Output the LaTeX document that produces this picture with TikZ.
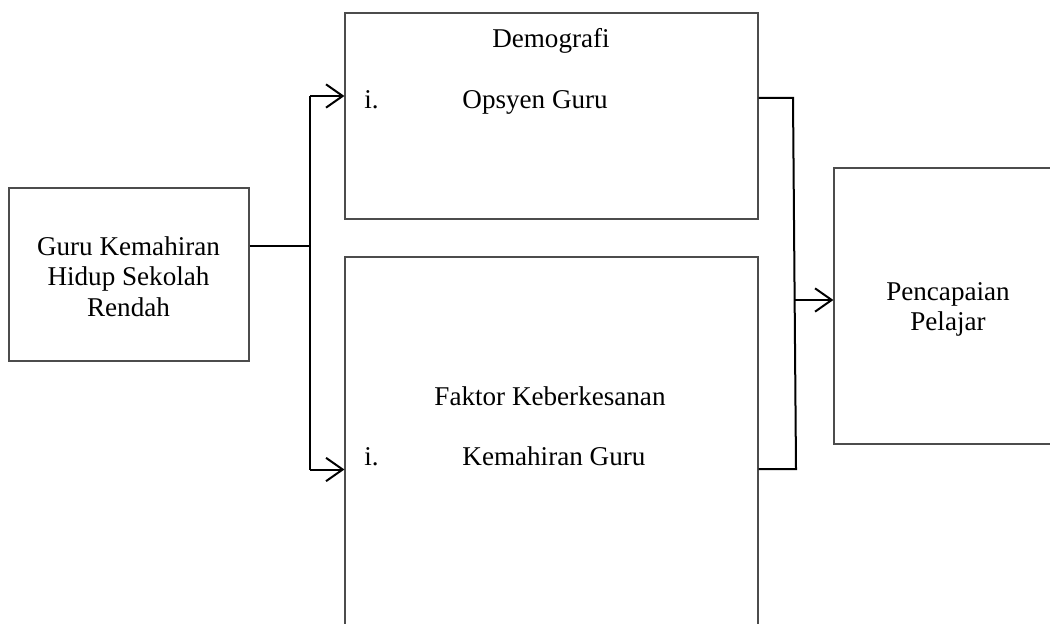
\documentclass[tikz,border=0pt]{standalone}
\usepackage{fontspec}
\setmainfont{Liberation Serif}
\usetikzlibrary{arrows.meta}
\tikzset{
    box/.style={draw=black!70, line width=0.5pt, rectangle, inner sep=0pt},
    txt/.style={font=\fontsize{12.2}{13.7}\selectfont, align=center, inner sep=0pt, anchor=base},
    conn/.style={line width=0.9pt},
    arr/.style={line width=0.9pt, -{Straight Barb[length=7.5pt, width=10.5pt, line width=0.9pt]}}
}
\begin{document}
\begin{tikzpicture}[x=0.45pt, y=-0.45pt]
        \useasboundingbox (0,0) rectangle (1050,623);
        % boxes
        \node[box, minimum width=240*0.45pt, minimum height=173*0.45pt] (guru) at (129,274.5) {};
        \node[box, minimum width=413*0.45pt, minimum height=206*0.45pt] (demo) at (551.5,116) {};
        \node[box, minimum width=413*0.45pt, minimum height=420*0.45pt] (faktor) at (551.5,467) {};
        \node[box, minimum width=228*0.45pt, minimum height=276*0.45pt] (capai) at (948,306) {};
        % texts (base = last line)
        \node[txt] (guru-t) at (128.5,316) {Guru Kemahiran\\Hidup Sekolah\\Rendah};
        \node[txt] (demo-t) at (551,47.7) {Demografi};
        \node[txt, anchor=base west] (demo-i) at (364,108.3) {i.};
        \node[txt, anchor=base west] (demo-a) at (462,108.3) {Opsyen Guru};
        \node[txt] (faktor-t) at (550,405) {Faktor Keberkesanan};
        \node[txt, anchor=base west] (faktor-i) at (364,465) {i.};
        \node[txt, anchor=base west] (faktor-a) at (462,465) {Kemahiran Guru};
        \node[txt] (capai-t) at (948,330.5) {Pencapaian\\Pelajar};
        % connectors
        \coordinate (fork) at (310,245.5);
        \coordinate (forkt) at (310,96);
        \coordinate (forkb) at (310,469.5);
        \coordinate (joint) at (793,98);
        \coordinate (jointm) at (795,300);
        \coordinate (jointb) at (796,469);
        \draw[conn] (guru.east |- fork) -- (fork);
        \draw[conn] (forkt) -- (forkb);
        \draw[arr] (forkt) -- (demo.west |- forkt);
        \draw[arr] (forkb) -- (faktor.west |- forkb);
        \draw[conn] (demo.east |- joint) -- (joint) -- (jointb) -- (faktor.east |- jointb);
        \draw[arr] (jointm) -- (capai.west |- jointm);
    \end{tikzpicture}
\end{document}
